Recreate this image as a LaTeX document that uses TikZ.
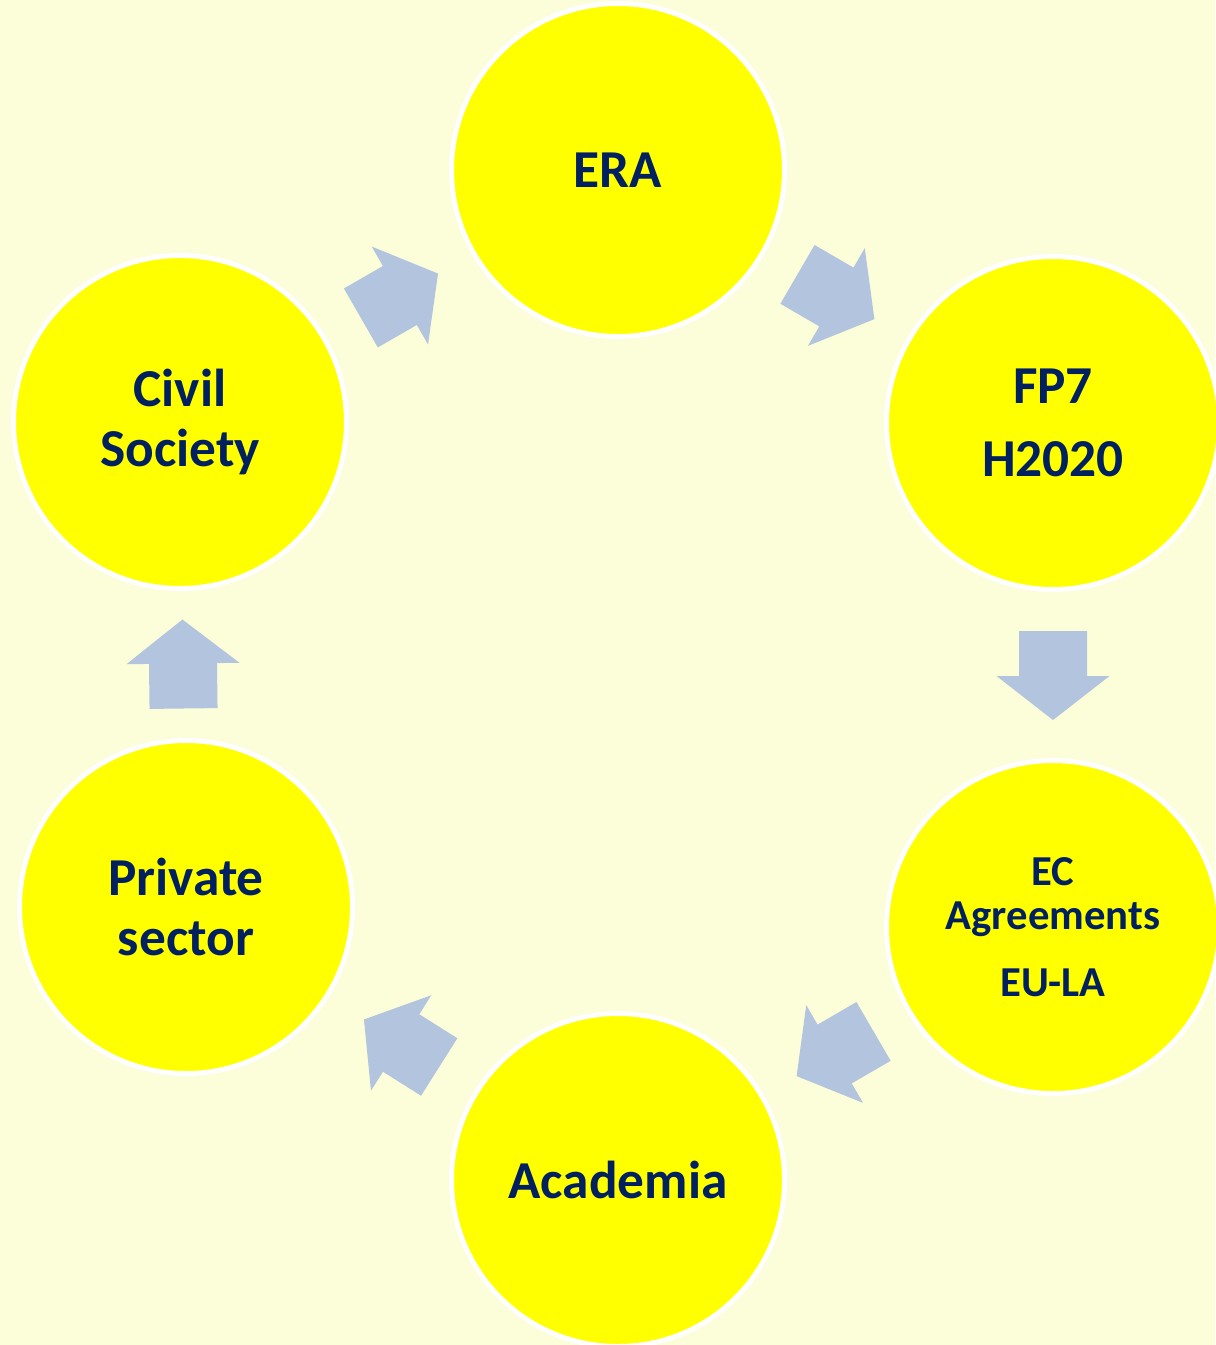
\documentclass[tikz,border=0pt]{standalone}
\usepackage{fontspec}
\setmainfont{Carlito}
\usetikzlibrary{calc}
\definecolor{bg}{RGB}{252,253,217}
\definecolor{disc}{RGB}{255,255,0}
\definecolor{navy}{RGB}{0,32,96}
\definecolor{arrowc}{RGB}{179,196,223}
\tikzset{
  hub/.style={circle, fill=disc, draw=white, line width=3.75pt, minimum size=249.75pt,
    inner sep=0pt, text=navy, font=\bfseries\fontsize{40}{45}\selectfont, align=center},
  smalltext/.style={font=\bfseries\fontsize{32}{33}\selectfont},
  blockarrow/.pic={\fill[arrowc] (-44,-34) -- (1,-34) -- (1,-56.5) -- (45,0) -- (1,56.5) -- (1,34) -- (-44,34) -- cycle;},
}
\begin{document}
\begin{tikzpicture}[x=0.75pt,y=0.75pt]
\fill[bg] (0,0) rectangle (1215,-1345);
\useasboundingbox (0,0) rectangle (1215,-1345);
\node[hub] (era) at (618,-170) {ERA};
\node[hub] (fp7) at (1053,-423) {FP7\\[10pt]H2020};
\node[hub, smalltext] (ec) at (1053,-927) {EC\\Agreements\\[17pt]EU-LA};
\node[hub] (acad) at (618,-1180) {Academia};
\node[hub] (priv) at (186,-907) {Private\\sector};
\node[hub] (civil) at (180,-422) {Civil\\Society};
\path (civil.center) -- (era.center) pic[midway, sloped, allow upside down]{blockarrow};
\path (era.center) -- (fp7.center) pic[midway, sloped, allow upside down]{blockarrow};
\path (fp7.center) -- (ec.center) pic[midway, sloped, allow upside down]{blockarrow};
\path (ec.center) -- (acad.center) pic[midway, sloped, allow upside down]{blockarrow};
\path (acad.center) -- (priv.center) pic[midway, sloped, allow upside down]{blockarrow};
\path (priv.center) -- (civil.center) pic[midway, sloped, allow upside down]{blockarrow};
\end{tikzpicture}
\end{document}
